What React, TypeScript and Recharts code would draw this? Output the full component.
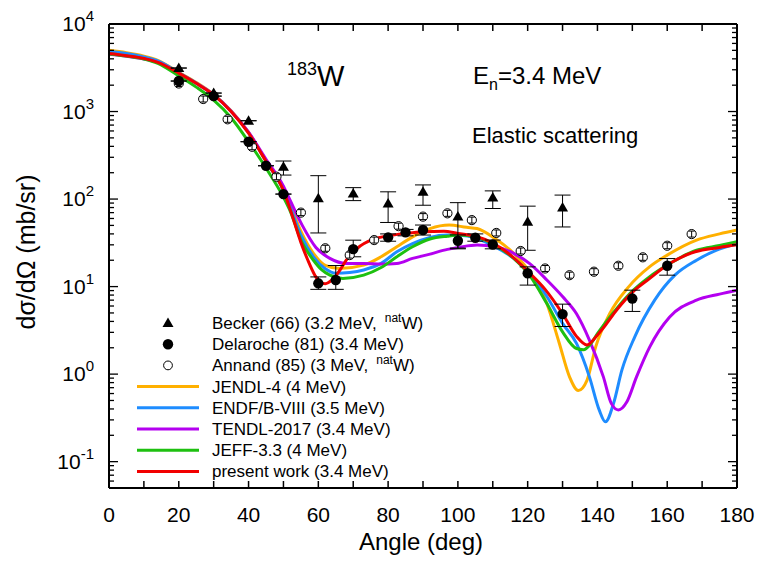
import { ComposedChart, Line, Scatter, ErrorBar, XAxis, YAxis } from "recharts"

const FONT = "'Liberation Sans', Arial, Helvetica, sans-serif"

// --- experimental data (angle in deg, dσ/dΩ in mb/sr) ---
const beckerAngle = [20, 30, 40, 50, 60, 70, 80, 90, 100, 110, 120, 130]
const beckerValue = [3140, 1625, 785, 234, 102, 116, 89, 121, 63, 104, 55, 80]
const beckerLow = [3140, 1625, 785, 188, 41, 96, 54, 85, 27, 78, 26, 48]
const beckerHigh = [3140, 1625, 785, 272, 185, 135, 121, 145, 91, 124, 83, 111]

const delarocheAngle = [20, 30, 40, 45, 50, 60, 65, 70, 80, 85, 90, 100, 105, 110, 120, 130, 150, 160]
const delarocheValue = [2230, 1500, 452, 240, 114, 10.9, 11.9, 26.8, 36.5, 41.6, 44.3, 33.4, 36.1, 30.3, 14.2, 4.85, 7.3, 17.3]
const delarocheLow = [2230, 1500, 452, 240, 114, 9.3, 9.3, 21.9, 33, 38, 38.8, 27.5, 33, 27, 10.4, 3.5, 5.2, 13.5]
const delarocheHigh = [2230, 1500, 452, 240, 114, 12.9, 17.4, 33.9, 40, 45, 50.5, 38.9, 40, 34, 16.8, 6.3, 9.1, 20.9]

const annandAngle = [20, 27, 34, 41, 48, 55, 62, 69, 76, 83, 90, 97, 104, 111, 118, 125, 132, 139, 146, 153, 160, 167]
const annandValue = [2090, 1390, 815, 396, 180, 70, 27.4, 22.9, 34, 49, 63, 68.7, 57.5, 41, 25.5, 16.1, 13.5, 14.8, 17.3, 21.6, 29.3, 39.8]

// --- evaluations ---
const jendlAngle = [0, 5, 10, 14, 20, 25, 30, 35, 40, 45, 50, 52, 55, 58.6, 62, 66, 73, 78, 82.5, 87, 92, 97.5, 102.5, 105.5, 110.6, 116, 120.5, 125.5, 129, 132, 134.5, 137, 139.5, 143.5, 149, 155, 160, 168.4, 175, 180]
const jendlValue = [5000, 4700, 4300, 3850, 2800, 2150, 1570, 1020, 580, 275, 128, 85, 43, 24, 17.5, 16.1, 17.6, 21.9, 28.5, 37, 46, 50.5, 47.5, 46, 35.4, 24, 14.8, 6.4, 2.3, 0.93, 0.65, 0.85, 2.05, 4.9, 10, 16.9, 22.9, 34, 40, 44.3]

const endfAngle = [0, 5, 10, 14, 20, 25, 30, 35, 40, 45, 50, 52, 55, 58.6, 62, 65, 69, 73, 78, 82.5, 87, 92, 97, 100.5, 105, 110.6, 116, 120.5, 125.5, 130, 134, 137.7, 140.5, 142.3, 144.6, 147, 150.7, 156.4, 162.2, 168.4, 174, 180]
const endfValue = [4850, 4600, 4200, 3800, 2780, 2120, 1560, 1010, 575, 272, 126, 80, 39, 21.9, 16, 14.2, 14.5, 15.5, 18.4, 25, 31, 36.5, 38.8, 38.5, 36, 28.5, 21, 14.2, 7.7, 3.8, 2.24, 0.93, 0.39, 0.285, 0.46, 1.11, 2.67, 7, 13.5, 20, 26, 30.6]

const tendlAngle = [0, 5, 10, 14, 20, 25, 30, 35, 40, 45, 50, 52, 55.4, 59.3, 63.3, 68, 73, 78, 82.5, 87, 92, 97, 100.5, 105.5, 110.6, 116, 120.5, 125.5, 130, 134, 137.7, 141.7, 144, 146, 148.4, 151.2, 155, 160.7, 168.4, 175, 180]
const tendlValue = [4500, 4280, 3980, 3650, 2720, 2100, 1550, 1010, 580, 285, 140, 95, 50, 28, 21, 18.4, 18.4, 18.1, 18.4, 21, 23.5, 26.6, 28.2, 29.8, 28.5, 24, 18.4, 11.9, 7.7, 4.9, 2.45, 0.93, 0.46, 0.39, 0.48, 0.93, 2.05, 4.5, 7, 8.2, 9.1]

const jeffAngle = [0, 5, 10, 14, 20, 25, 30, 35, 40, 45, 50, 52, 55, 58.6, 61, 63.3, 67, 73, 78, 82.5, 87, 92, 97, 100.5, 105, 110.6, 116, 120.5, 125.5, 130, 134, 136, 138, 140, 145.5, 150.3, 155, 160, 168.4, 175, 180]
const jeffValue = [4550, 4300, 3980, 3550, 2550, 1900, 1350, 850, 452, 226, 105, 72, 34, 20, 15.5, 13.5, 12.4, 13.5, 16.5, 21.9, 28.5, 35, 37.7, 38.8, 37, 29.8, 21, 13.5, 6.4, 3.04, 1.96, 1.9, 2.2, 2.9, 5.6, 9.1, 13, 17.6, 26, 29.5, 32.5]

const presentAngle = [0, 5, 10, 14, 20, 25, 30, 35, 40, 45, 50, 52, 55, 57, 59, 60.5, 62, 64, 66, 68, 71, 76, 80, 85, 90, 96, 100, 105, 110, 115, 120, 125, 130, 134, 137, 140, 142, 145.5, 150, 155, 160, 168, 175, 180]
const presentValue = [4600, 4350, 4050, 3650, 2750, 2100, 1550, 1000, 565, 270, 125, 75, 32, 20, 13.5, 11.2, 10.8, 12, 15, 20, 27, 35, 38, 40.5, 42.4, 43, 40.5, 37.7, 31.5, 23, 15, 9.3, 4.9, 2.7, 2.15, 2.8, 3.5, 5.4, 8.6, 12.4, 17.6, 25, 28, 30]

// --- axes ---
const xTicks = [0, 10, 20, 30, 40, 50, 60, 70, 80, 90, 100, 110, 120, 130, 140, 150, 160, 170, 180]
const yDecades = [0.01, 0.1, 1, 10, 100, 1000, 10000]
const yMantissas = [1, 2, 3, 4, 5, 6, 7, 8, 9]
const yTicks = yDecades
  .flatMap((d) => yMantissas.map((m) => m * d))
  .filter((v) => v > 0.05 && v <= 10000)

const curves = [
  { name: "JENDL-4 (4 MeV)", color: "#FFB000", angle: jendlAngle, value: jendlValue },
  { name: "ENDF/B-VIII (3.5 MeV)", color: "#1E8CFF", angle: endfAngle, value: endfValue },
  { name: "TENDL-2017 (3.4 MeV)", color: "#B400F0", angle: tendlAngle, value: tendlValue },
  { name: "JEFF-3.3 (4 MeV)", color: "#1EC010", angle: jeffAngle, value: jeffValue },
  { name: "present work (3.4 MeV)", color: "#F20000", angle: presentAngle, value: presentValue },
]

const toPoints = (angle: number[], value: number[]) => angle.map((x, i) => ({ x, y: value[i] }))
const toErrPoints = (angle: number[], value: number[], low: number[], high: number[]) =>
  angle.map((x, i) => ({ x, y: value[i], err: [value[i] - low[i], high[i] - value[i]] }))

const beckerData = toErrPoints(beckerAngle, beckerValue, beckerLow, beckerHigh)
const delarocheData = toErrPoints(delarocheAngle, delarocheValue, delarocheLow, delarocheHigh)
const annandData = toPoints(annandAngle, annandValue)

const isDecade = (v: number) => Math.abs(Math.log10(v) - Math.round(Math.log10(v))) < 1e-6

function Triangle({ cx, cy }: any) {
  return <path d={`M${cx},${cy - 5.5} L${cx + 5.5},${cy + 4} L${cx - 5.5},${cy + 4} Z`} fill="#000" />
}
function Dot({ cx, cy }: any) {
  return <circle cx={cx} cy={cy} r={5.2} fill="#000" />
}
function OpenDot({ cx, cy }: any) {
  return (
    <g stroke="#000" strokeWidth={1} fill="none">
      <circle cx={cx} cy={cy} r={4.6} fill="#fff" />
      <line x1={cx} x2={cx} y1={cy - 3} y2={cy + 3} />
      <line x1={cx - 3} x2={cx + 3} y1={cy - 3} y2={cy - 3} />
      <line x1={cx - 3} x2={cx + 3} y1={cy + 3} y2={cy + 3} />
    </g>
  )
}

function BottomTick({ x, y, payload }: any) {
  return (
    <g>
      <line x1={x} x2={x} y1={y} y2={y - 7} stroke="#000" strokeWidth={1.5} />
      {payload.value % 20 === 0 && (
        <text x={x} y={y + 34} textAnchor="middle" fontSize={21} fontFamily={FONT} fill="#000">
          {payload.value}
        </text>
      )}
    </g>
  )
}
function TopTick({ x, y }: any) {
  return <line x1={x} x2={x} y1={y} y2={y + 7} stroke="#000" strokeWidth={1.5} />
}
function LeftTick({ x, y, payload }: any) {
  const v = payload.value
  const major = isDecade(v)
  return (
    <g>
      <line x1={x} x2={x + (major ? 9 : 5)} y1={y} y2={y} stroke="#000" strokeWidth={1.3} />
      {major && (
        <text x={x - 15} y={y + 7} textAnchor="end" fontSize={21} fontFamily={FONT} fill="#000">
          10
          <tspan dy={-10} fontSize={15}>
            {Math.round(Math.log10(v))}
          </tspan>
        </text>
      )}
    </g>
  )
}
function RightTick({ x, y, payload }: any) {
  const major = isDecade(payload.value)
  return <line x1={x} x2={x - (major ? 9 : 5)} y1={y} y2={y} stroke="#000" strokeWidth={1.3} />
}

const legendX = 212
const legendTop = 323
const legendStep = 21.2

function LegendBlock() {
  const rows = [
    { kind: "tri", label: "Becker (66) (3.2 MeV,", nat: true },
    { kind: "dot", label: "Delaroche (81) (3.4 MeV)", nat: false },
    { kind: "open", label: "Annand (85) (3 MeV,", nat: true },
    ...curves.map((c) => ({ kind: c.color, label: c.name, nat: false })),
  ]
  return (
    <g fontFamily={FONT} fontSize={17} fill="#000">
      {rows.map((r, i) => {
        const cy = legendTop + i * legendStep
        let mark
        if (r.kind === "tri") mark = <Triangle cx={168} cy={cy} />
        else if (r.kind === "dot") mark = <Dot cx={168} cy={cy} />
        else if (r.kind === "open") mark = <circle cx={168} cy={cy} r={4.4} fill="none" stroke="#000" strokeWidth={1} />
        else mark = <line x1={137} x2={199} y1={cy} y2={cy} stroke={r.kind} strokeWidth={3} />
        return (
          <g key={i}>
            {mark}
            <text x={legendX} y={cy + 6}>
              {r.label}
              {r.nat && (
                <>
                  <tspan dx={8} dy={-7} fontSize={12}>nat</tspan>
                  <tspan dy={7}>W)</tspan>
                </>
              )}
            </text>
          </g>
        )
      })}
    </g>
  )
}

function Annotations() {
  return (
    <g fontFamily={FONT} fill="#000">
      <text x={287} y={86} fontSize={29}>
        <tspan fontSize={18} dy={-11}>183</tspan>
        <tspan dy={11}>W</tspan>
      </text>
      <text x={473} y={84} fontSize={24}>
        E<tspan fontSize={16} dy={6}>n</tspan>
        <tspan dy={-6}>=3.4 MeV</tspan>
      </text>
      <text x={472} y={143} fontSize={22}>
        Elastic scattering
      </text>
      <text x={421} y={550} fontSize={24} textAnchor="middle">
        Angle (deg)
      </text>
      <text x={35} y={252} fontSize={25} textAnchor="middle" transform="rotate(-90, 35, 252)">
        dσ/dΩ (mb/sr)
      </text>
    </g>
  )
}

export default function App() {
  return (
    <div style={{ position: "absolute", left: 0, top: 0, background: "#fff" }}>
      <ComposedChart width={760} height={567} margin={{ top: 23, right: 22, bottom: 78, left: 108 }}>
        <XAxis
          xAxisId="b"
          dataKey="x"
          type="number"
          domain={[0, 180]}
          ticks={xTicks}
          interval={0}
          tick={(p: any) => <BottomTick {...p} />}
          tickLine={false}
          tickSize={0}
          tickMargin={0}
          height={1}
          axisLine={{ stroke: "#000", strokeWidth: 2 }}
          allowDataOverflow
        />
        <XAxis
          xAxisId="t"
          orientation="top"
          dataKey="x"
          type="number"
          domain={[0, 180]}
          ticks={xTicks}
          interval={0}
          tick={(p: any) => <TopTick {...p} />}
          tickLine={false}
          tickSize={0}
          tickMargin={0}
          height={1}
          axisLine={{ stroke: "#000", strokeWidth: 2 }}
          allowDataOverflow
        />
        <YAxis
          yAxisId="l"
          scale="log"
          type="number"
          domain={[0.05, 10000]}
          ticks={yTicks}
          interval={0}
          tick={(p: any) => <LeftTick {...p} />}
          tickLine={false}
          tickSize={0}
          tickMargin={0}
          width={1}
          axisLine={{ stroke: "#000", strokeWidth: 2 }}
          allowDataOverflow
        />
        <YAxis
          yAxisId="r"
          orientation="right"
          scale="log"
          type="number"
          domain={[0.05, 10000]}
          ticks={yTicks}
          interval={0}
          tick={(p: any) => <RightTick {...p} />}
          tickLine={false}
          tickSize={0}
          tickMargin={0}
          width={1}
          axisLine={{ stroke: "#000", strokeWidth: 2 }}
          allowDataOverflow
        />
        {curves.map((c) => (
          <Line
            key={c.name}
            xAxisId="b"
            yAxisId="l"
            data={toPoints(c.angle, c.value)}
            dataKey="y"
            type="monotone"
            stroke={c.color}
            strokeWidth={3}
            dot={false}
            activeDot={false}
            isAnimationActive={false}
          />
        ))}
        <Scatter xAxisId="b" yAxisId="l" data={annandData} dataKey="y" shape={(p: any) => <OpenDot {...p} />} isAnimationActive={false} />
        <Scatter xAxisId="b" yAxisId="l" data={beckerData} dataKey="y" shape={(p: any) => <Triangle {...p} />} isAnimationActive={false}>
          <ErrorBar dataKey="err" direction="y" width={8} stroke="#000" strokeWidth={1} />
        </Scatter>
        <Scatter xAxisId="b" yAxisId="l" data={delarocheData} dataKey="y" shape={(p: any) => <Dot {...p} />} isAnimationActive={false}>
          <ErrorBar dataKey="err" direction="y" width={8} stroke="#000" strokeWidth={1} />
        </Scatter>
        <Annotations />
        <LegendBlock />
      </ComposedChart>
    </div>
  )
}
